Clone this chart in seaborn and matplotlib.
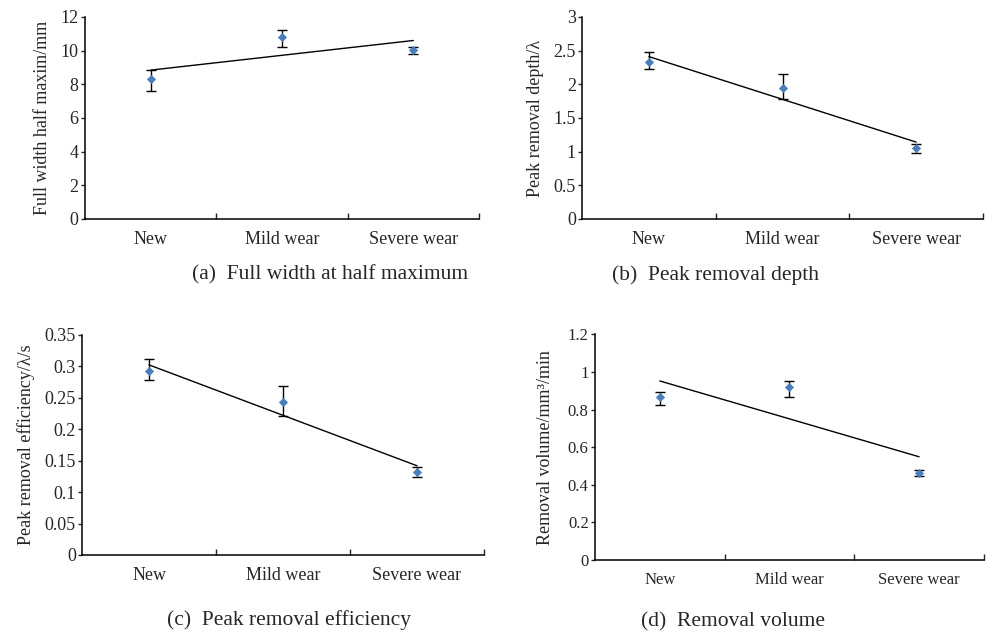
import numpy as np
import pandas as pd
import matplotlib
matplotlib.use("Agg")
import matplotlib.pyplot as plt
from matplotlib.ticker import FixedLocator, FuncFormatter
import seaborn as sns

# Wear states of the polishing pad
categories = ["New", "Mild wear", "Severe wear"]

# (a) Full width at half maximum, mm
fwhm_mean = [8.30, 10.81, 10.06]
fwhm_high = [8.84, 11.23, 10.24]
fwhm_low = [7.59, 10.22, 9.79]

# (b) Peak removal depth, wavelengths
depth_mean = [2.33, 1.94, 1.06]
depth_high = [2.48, 2.16, 1.12]
depth_low = [2.22, 1.785, 0.98]

# (c) Peak removal efficiency, wavelengths per second
eff_mean = [0.292, 0.243, 0.1315]
eff_high = [0.311, 0.269, 0.1395]
eff_low = [0.278, 0.221, 0.1236]

# (d) Removal volume, mm^3/min
vol_mean = [0.867, 0.920, 0.464]
vol_high = [0.893, 0.950, 0.477]
vol_low = [0.826, 0.865, 0.448]

sns.set_style("ticks")
plt.rcParams["font.family"] = ["Liberation Serif", "DejaVu Serif"]
plt.rcParams["axes.linewidth"] = 1.1

BLUE = "#4a7ebb"

panels = [
    dict(rect=[0.0861, 0.6557, 0.3992, 0.3176], mean=fwhm_mean, hi=fwhm_high, lo=fwhm_low,
         ylim=12, ystep=2, ylabel="Full width half maxim/mm", fs=13, lpad=7,
         caption="(a)  Full width at half maximum", cap_xy=(0.334, 0.5676)),
    dict(rect=[0.5897, 0.6557, 0.4063, 0.3176], mean=depth_mean, hi=depth_high, lo=depth_low,
         ylim=3, ystep=0.5, ylabel="Peak removal depth/\u03bb", fs=13, lpad=7,
         caption="(b)  Peak removal depth", cap_xy=(0.7254, 0.5676)),
    dict(rect=[0.0831, 0.1274, 0.4073, 0.3459], mean=eff_mean, hi=eff_high, lo=eff_low,
         ylim=0.35, ystep=0.05, ylabel="Peak removal efficiency/\u03bb/s", fs=13, lpad=7,
         caption="(c)  Peak removal efficiency", cap_xy=(0.2928, 0.0252)),
    dict(rect=[0.6028, 0.1195, 0.3941, 0.3549], mean=vol_mean, hi=vol_high, lo=vol_low,
         ylim=1.2, ystep=0.2, ylabel="Removal volume/mm\u00b3/min", fs=12, lpad=10,
         caption="(d)  Removal volume", cap_xy=(0.7427, 0.022)),
]

fig = plt.figure(figsize=(9.87, 6.36), dpi=100)

for p in panels:
    ax = fig.add_axes(p["rect"])
    xpos = np.arange(len(categories))
    df = pd.DataFrame({"x": xpos, "y": p["mean"]})
    mean = np.array(p["mean"])
    yerr = np.vstack([mean - np.array(p["lo"]), np.array(p["hi"]) - mean])

    # linear trend line across the three states
    sns.regplot(data=df, x="x", y="y", ax=ax, scatter=False, ci=None, truncate=True,
                line_kws=dict(color="black", lw=1.0, zorder=2))
    ax.errorbar(xpos, mean, yerr=yerr, fmt="none", ecolor="black", elinewidth=1.0,
                capsize=3.5, capthick=1.0, zorder=3)
    sns.scatterplot(data=df, x="x", y="y", ax=ax, marker="D", s=22, color=BLUE,
                    edgecolor=BLUE, linewidth=0, zorder=4)

    ax.set_xlim(-0.5, len(categories) - 0.5)
    ax.set_ylim(0, p["ylim"])
    ticks = np.round(np.arange(0, p["ylim"] + p["ystep"] / 2, p["ystep"]), 4)
    ax.set_yticks(ticks)
    ax.yaxis.set_major_formatter(FuncFormatter(lambda v, _: f"{v:g}"))
    ax.set_xticks(xpos)
    ax.set_xticklabels(categories)
    ax.xaxis.set_minor_locator(FixedLocator([0.5, 1.5, 2.5]))
    ax.tick_params(axis="x", which="major", length=0, pad=9, labelsize=p["fs"])
    ax.tick_params(axis="x", which="minor", direction="in", length=4.5, width=1.0)
    ax.tick_params(axis="y", direction="out", length=3, width=1.0, pad=1.5,
                   labelsize=p["fs"])
    ax.set_xlabel("")
    ax.set_ylabel(p["ylabel"], fontsize=13, labelpad=p["lpad"])
    sns.despine(ax=ax)
    for s in ("left", "bottom"):
        ax.spines[s].set_color("black")

    fig.text(p["cap_xy"][0], p["cap_xy"][1], p["caption"], ha="center", va="center",
             fontsize=15.5)

fig.savefig("out.png", dpi=100)
